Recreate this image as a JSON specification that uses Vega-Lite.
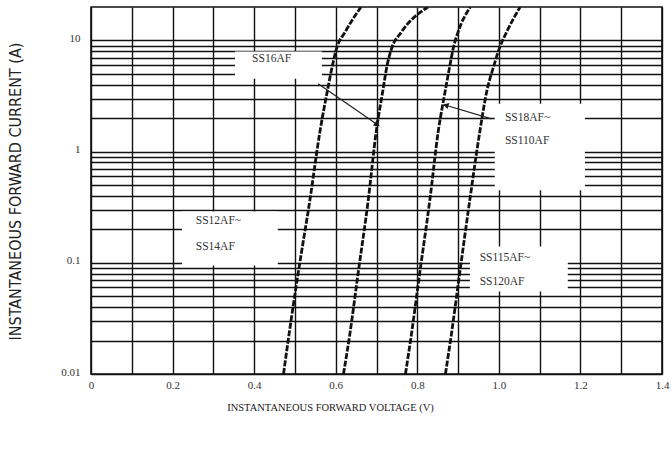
{
  "$schema": "https://vega.github.io/schema/vega-lite/v6.json",
  "autosize": "none",
  "width": 571,
  "height": 367,
  "padding": {"left": 91, "top": 7, "right": 10, "bottom": 75},
  "background": "white",
  "config": {
    "view": {"stroke": "#111", "strokeWidth": 1.6},
    "axis": {
      "grid": true, "gridColor": "#111", "gridWidth": 1.4, "gridOpacity": 1,
      "domain": false, "ticks": false, "tickSize": 0,
      "labelFont": "Liberation Serif", "labelFontSize": 11, "labelColor": "#333",
      "titleFont": "Liberation Serif", "titleFontWeight": "normal", "titleColor": "#222"
    }
  },
  "datasets": {
    "curves": [
      {"s": "A", "V": 0.472, "I": 0.01}, {"s": "A", "V": 0.486, "I": 0.0233}, {"s": "A", "V": 0.508, "I": 0.081}, {"s": "A", "V": 0.537, "I": 0.373}, {"s": "A", "V": 0.561, "I": 1.49}, {"s": "A", "V": 0.579, "I": 3.44}, {"s": "A", "V": 0.592, "I": 5.97}, {"s": "A", "V": 0.602, "I": 8.45}, {"s": "A", "V": 0.623, "I": 11.9}, {"s": "A", "V": 0.662, "I": 20},
      {"s": "B", "V": 0.619, "I": 0.01}, {"s": "B", "V": 0.635, "I": 0.0233}, {"s": "B", "V": 0.655, "I": 0.081}, {"s": "B", "V": 0.68, "I": 0.373}, {"s": "B", "V": 0.699, "I": 1.49}, {"s": "B", "V": 0.715, "I": 3.44}, {"s": "B", "V": 0.726, "I": 5.97}, {"s": "B", "V": 0.737, "I": 8.45}, {"s": "B", "V": 0.761, "I": 11.9}, {"s": "B", "V": 0.826, "I": 20},
      {"s": "C", "V": 0.771, "I": 0.01}, {"s": "C", "V": 0.786, "I": 0.0233}, {"s": "C", "V": 0.806, "I": 0.081}, {"s": "C", "V": 0.831, "I": 0.373}, {"s": "C", "V": 0.851, "I": 1.49}, {"s": "C", "V": 0.868, "I": 3.44}, {"s": "C", "V": 0.88, "I": 5.97}, {"s": "C", "V": 0.888, "I": 8.45}, {"s": "C", "V": 0.9, "I": 11.9}, {"s": "C", "V": 0.93, "I": 20},
      {"s": "D", "V": 0.869, "I": 0.01}, {"s": "D", "V": 0.884, "I": 0.0233}, {"s": "D", "V": 0.904, "I": 0.081}, {"s": "D", "V": 0.929, "I": 0.373}, {"s": "D", "V": 0.953, "I": 1.49}, {"s": "D", "V": 0.97, "I": 3.44}, {"s": "D", "V": 0.988, "I": 5.97}, {"s": "D", "V": 1.001, "I": 8.45}, {"s": "D", "V": 1.019, "I": 11.9}, {"s": "D", "V": 1.052, "I": 20}
    ],
    "boxes": [
      {"v1": 0.353, "v2": 0.566, "i1": 7.94, "i2": 4.53},
      {"v1": 0.99, "v2": 1.211, "i1": 2.69, "i2": 0.45},
      {"v1": 0.223, "v2": 0.458, "i1": 0.29, "i2": 0.0945},
      {"v1": 0.929, "v2": 1.169, "i1": 0.14, "i2": 0.0551}
    ],
    "labels": [
      {"t": "SS16AF", "V": 0.395, "I": 6.86},
      {"t": "SS18AF~", "V": 1.015, "I": 2.0},
      {"t": "SS110AF", "V": 1.015, "I": 1.254},
      {"t": "SS12AF~", "V": 0.257, "I": 0.236},
      {"t": "SS14AF", "V": 0.257, "I": 0.14},
      {"t": "SS115AF~", "V": 0.953, "I": 0.1116},
      {"t": "SS120AF", "V": 0.953, "I": 0.0677}
    ],
    "leaders": [
      {"k": "a", "v1": 0.557, "i1": 4.08, "v2": 0.7, "i2": 1.77},
      {"k": "b", "v1": 0.982, "i1": 1.97, "v2": 0.872, "i2": 2.6}
    ]
  },
  "layer": [
    {
      "data": {"name": "boxes"},
      "mark": {"type": "rect", "fill": "white", "stroke": null},
      "encoding": {
        "x": {"field": "v1", "type": "quantitative", "scale": {"domain": [0, 1.4], "nice": false},
          "axis": {"values": [0,0.1,0.2,0.3,0.4,0.5,0.6,0.7,0.8,0.9,1.0,1.1,1.2,1.3,1.4],
            "labelExpr": "datum.value == 0 ? '0' : (round(datum.value*10) % 2 == 0 ? format(datum.value, '.1f') : '')",
            "labelOverlap": false, "labelPadding": 5, "labelFlush": false,
            "title": "INSTANTANEOUS FORWARD VOLTAGE (V)", "titleFontSize": 10.5,
            "titleX": 239, "titleY": 33, "titleAnchor": null, "titleAlign": "center", "titleBaseline": "middle"}},
        "x2": {"field": "v2"},
        "y": {"field": "i1", "type": "quantitative", "scale": {"type": "log", "domain": [0.01, 20], "nice": false},
          "axis": {"values": [0.01,0.02,0.03,0.04,0.05,0.06,0.07,0.08,0.09,0.1,0.2,0.3,0.4,0.5,0.6,0.7,0.8,0.9,1,2,3,4,5,6,7,8,9,10],
            "format": ".2~f",
            "labelExpr": "(datum.value == 10 || datum.value == 1 || datum.value == 0.1 || datum.value == 0.01) ? datum.label : ''",
            "labelOverlap": false, "labelPadding": 11, "labelOffset": -2, "labelFlush": false,
            "title": "INSTANTANEOUS FORWARD CURRENT (A)",
            "titleFont": "Liberation Sans Narrow, DejaVu Sans Condensed, sans-serif", "titleFontSize": 16,
            "titleX": -76, "titleY": 184, "titleAngle": -90, "titleAlign": "center", "titleBaseline": "middle", "titleAnchor": null}},
        "y2": {"field": "i2"}
      }
    },
    {
      "data": {"name": "curves"},
      "mark": {"type": "line", "color": "#111", "strokeWidth": 2.8, "strokeDash": [6, 1.6], "interpolate": "monotone", "clip": true},
      "encoding": {
        "x": {"field": "V", "type": "quantitative"},
        "y": {"field": "I", "type": "quantitative"},
        "detail": {"field": "s"},
        "order": {"field": "V"}
      }
    },
    {
      "data": {"name": "leaders"},
      "mark": {"type": "rule", "color": "#222", "strokeWidth": 1.2},
      "encoding": {
        "x": {"field": "v1", "type": "quantitative"},
        "y": {"field": "i1", "type": "quantitative"},
        "x2": {"field": "v2"},
        "y2": {"field": "i2"}
      }
    },
    {
      "data": {"name": "leaders"},
      "transform": [{"filter": "datum.k == 'a'"}],
      "mark": {"type": "point", "shape": "triangle", "filled": true, "color": "#111", "size": 45, "angle": 124, "opacity": 1},
      "encoding": {
        "x": {"field": "v2", "type": "quantitative"},
        "y": {"field": "i2", "type": "quantitative"}
      }
    },
    {
      "data": {"name": "leaders"},
      "transform": [{"filter": "datum.k == 'b'"}],
      "mark": {"type": "point", "shape": "triangle", "filled": true, "color": "#111", "size": 40, "angle": 286, "opacity": 1},
      "encoding": {
        "x": {"field": "v2", "type": "quantitative"},
        "y": {"field": "i2", "type": "quantitative"}
      }
    },
    {
      "data": {"name": "labels"},
      "mark": {"type": "text", "align": "left", "baseline": "middle", "font": "Liberation Serif", "fontSize": 11.5, "color": "#333"},
      "encoding": {
        "x": {"field": "V", "type": "quantitative"},
        "y": {"field": "I", "type": "quantitative"},
        "text": {"field": "t"}
      }
    }
  ]
}
